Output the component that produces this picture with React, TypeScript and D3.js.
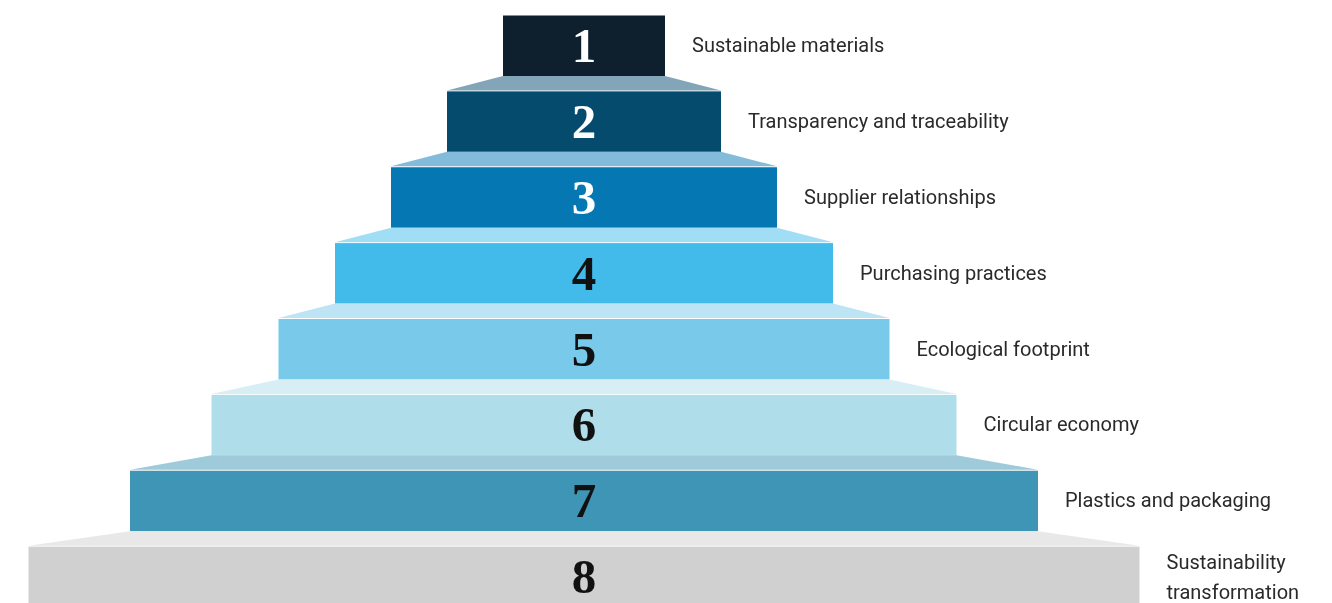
import React from "react";
import * as d3 from "d3";

const steps = ["1", "2", "3", "4", "5", "6", "7", "8"];
const labels = [
  ["Sustainable materials"],
  ["Transparency and traceability"],
  ["Supplier relationships"],
  ["Purchasing practices"],
  ["Ecological footprint"],
  ["Circular economy"],
  ["Plastics and packaging"],
  ["Sustainability", "transformation"],
];
const widths = [162, 274, 386, 498, 611, 745, 908, 1111];
const fills = ["#0e1f2e", "#044b6e", "#0578b4", "#42bbeb", "#79c9ea", "#afdde9", "#3e95b5", "#d0d0d0"];
const numberColors = ["#ffffff", "#ffffff", "#ffffff", "#111111", "#111111", "#111111", "#111111", "#111111"];

const W = 1332;
const H = 603;
const CENTER = 584;
const TRAP = 15;
const STEP_H = 61;

export default function App() {
  const y = d3.scaleLinear().domain([0, 8]).range([15, 622]);
  const x = d3.scaleLinear().domain([-widths[7] / 2, widths[7] / 2]).range([CENTER - widths[7] / 2, CENTER + widths[7] / 2]);
  const light = (c: string) => d3.interpolateRgb(c, "#ffffff")(0.5);
  const line = d3.line<[number, number]>();

  return (
    <svg width={W} height={H} style={{ position: "fixed", left: 0, top: 0, display: "block" }}>
      {steps.map((s, i) => {
        const top = y(i);
        const hw = widths[i] / 2;
        const x0 = x(-hw);
        const x1 = x(hw);
        const trap =
          i > 0
            ? line([
                [x(-widths[i - 1] / 2), top - TRAP],
                [x(widths[i - 1] / 2), top - TRAP],
                [x1, top - 0.5],
                [x0, top - 0.5],
              ]) + "Z"
            : null;
        const lab = labels[i];
        const lx = x1 + 27;
        const cy = top + STEP_H / 2;
        return (
          <g key={s}>
            {trap && <path d={trap} fill={light(fills[i])} />}
            <rect x={x0} y={top + 0.5} width={x1 - x0} height={i === 7 ? 70 : STEP_H - 0.5} fill={fills[i]} />
            <text
              x={CENTER}
              y={cy + 16.5}
              textAnchor="middle"
              fill={numberColors[i]}
              style={{ fontFamily: "'Liberation Serif', 'DejaVu Serif', serif", fontWeight: 700, fontSize: 49 }}
            >
              {s}
            </text>
            {lab.map((t, j) => (
              <text
                key={j}
                x={lx}
                y={lab.length === 1 ? cy + 6.5 : top + 23 + j * 29.5}
                fill="#2a2a2a"
                style={{ fontFamily: "Roboto, 'Noto Sans', sans-serif", fontSize: 20 }}
              >
                {t}
              </text>
            ))}
          </g>
        );
      })}
    </svg>
  );
}
